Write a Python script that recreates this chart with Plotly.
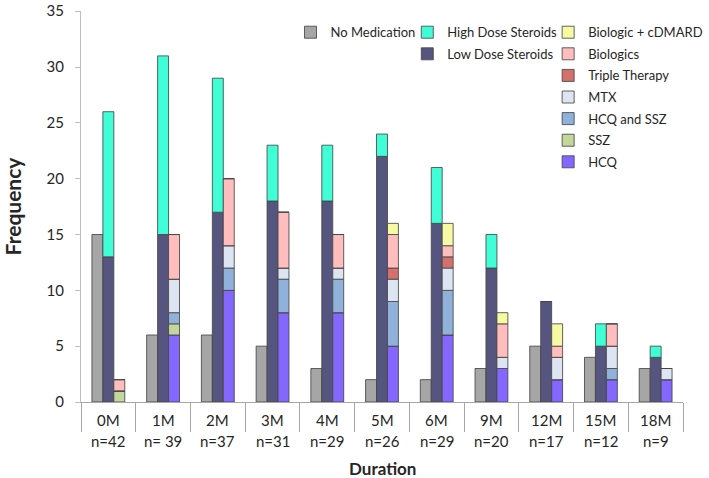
import plotly.graph_objects as go

# ---------------- data ----------------
durations = ["0M", "1M", "2M", "3M", "4M", "5M", "6M", "9M", "12M", "15M", "18M"]
n_labels = ["n=42", "n= 39", "n=37", "n=31", "n=29", "n=26", "n=29", "n=20", "n=17", "n=12", "n=9"]
y_ticks = [0, 5, 10, 15, 20, 25, 30, 35]

no_medication = [15, 6, 6, 5, 3, 2, 2, 3, 5, 4, 3]

low_dose_steroids = [13, 15, 17, 18, 18, 22, 16, 12, 9, 5, 4]
high_dose_steroids = [13, 16, 12, 5, 5, 2, 5, 3, 0, 2, 1]

hcq = [0, 6, 10, 8, 8, 5, 6, 3, 2, 2, 2]
ssz = [1, 1, 0, 0, 0, 0, 0, 0, 0, 0, 0]
hcq_and_ssz = [0, 1, 2, 3, 3, 4, 4, 0, 0, 1, 0]
mtx = [0, 3, 2, 1, 1, 2, 2, 1, 2, 2, 1]
triple_therapy = [0, 0, 0, 0, 0, 1, 1, 0, 0, 0, 0]
biologics = [1, 4, 6, 5, 3, 3, 1, 3, 1, 2, 0]
biologic_cdmard = [0, 0, 0, 0, 0, 1, 2, 1, 2, 0, 0]

# ---------------- styling ----------------
FONT = "Lato, 'Open Sans', Arial, sans-serif"
TXT = "#262626"
EDGE = "rgba(70,70,70,0.85)"
BAR_W = 0.2
OFFSETS = [-0.3, -0.1, 0.1]

# (name, values, colour, legend) grouped per bar column, bottom-to-top
columns = [
    [("No Medication", no_medication, "#A6A6A6", "legend")],
    [("Low Dose Steroids", low_dose_steroids, "#56557F", "legend2"),
     ("High Dose Steroids", high_dose_steroids, "#40FFD6", "legend2")],
    [("HCQ", hcq, "#8467FF", "legend3"),
     ("SSZ", ssz, "#C3D69B", "legend3"),
     ("HCQ and SSZ", hcq_and_ssz, "#8FB1DA", "legend3"),
     ("MTX", mtx, "#DCE5F1", "legend3"),
     ("Triple Therapy", triple_therapy, "#D4716F", "legend3"),
     ("Biologics", biologics, "#FFBDBD", "legend3"),
     ("Biologic + cDMARD", biologic_cdmard, "#F5FAA3", "legend3")],
]

fig = go.Figure()
k = 0
for col_idx, col in enumerate(columns):
    base = [0] * len(durations)
    for name, vals, color, leg in col:
        fig.add_trace(go.Bar(
            x=durations, y=vals, base=base, name=name,
            width=BAR_W, offset=OFFSETS[col_idx],
            marker=dict(color=color, line=dict(color=EDGE, width=1)),
            legend=leg, legendgroup=name, legendrank=1000 - k,
        ))
        base = [b + v for b, v in zip(base, vals)]
        k += 1

# category names and n= labels beneath the axis
for d, n in zip(durations, n_labels):
    fig.add_annotation(x=d, xref="x", y=-0.046, yref="paper", text=d,
                       showarrow=False, yanchor="middle",
                       font=dict(family=FONT, size=15, color=TXT))
    fig.add_annotation(x=d, xref="x", y=-0.101, yref="paper", text=n,
                       showarrow=False, yanchor="middle",
                       font=dict(family=FONT, size=15, color=TXT))

# x-axis title
fig.add_annotation(x=0.5, xref="paper", y=-0.170, yref="paper", text="<b>Duration</b>",
                   showarrow=False, yanchor="middle",
                   font=dict(family=FONT, size=17, color=TXT))

leg_common = dict(bgcolor="rgba(0,0,0,0)", font=dict(family=FONT, size=13, color=TXT),
                  orientation="v", traceorder="grouped", tracegroupgap=1.7,
                  yanchor="top", xanchor="left")
fig.update_layout(
    width=709, height=478,
    margin=dict(l=80, r=1, t=7, b=76),
    paper_bgcolor="white", plot_bgcolor="white",
    barmode="overlay",
    font=dict(family=FONT, size=15, color=TXT),
    showlegend=True,
    legend=dict(x=0.348, y=0.984, **leg_common),
    legend2=dict(x=0.542, y=0.984, **leg_common),
    legend3=dict(x=0.776, y=0.984, **leg_common),
    xaxis=dict(
        type="category", categoryorder="array", categoryarray=durations,
        range=[-0.5, len(durations) - 0.5],
        showline=True, linecolor="#A6A6A6", linewidth=1,
        ticks="outside", tickson="boundaries", ticklen=29,
        tickcolor="#A6A6A6", tickwidth=1,
        showticklabels=False, showgrid=False, zeroline=False,
    ),
    yaxis=dict(
        range=[0, 35.02], tickmode="array", tickvals=y_ticks,
        showline=True, linecolor="#BFBFBF", linewidth=1,
        ticks="outside", ticklen=5, tickcolor="#BFBFBF",
        ticklabelstandoff=8, ticklabeloverflow="allow",
        showgrid=False, zeroline=False,
        tickfont=dict(family=FONT, size=15, color=TXT),
        title=dict(text="<b>Frequency</b>", standoff=31,
                   font=dict(family=FONT, size=21, color=TXT)),
    ),
)

fig.write_html("out.html", config={"displayModeBar": False},
               post_script="document.body.style.margin='0';document.body.style.padding='0';")
